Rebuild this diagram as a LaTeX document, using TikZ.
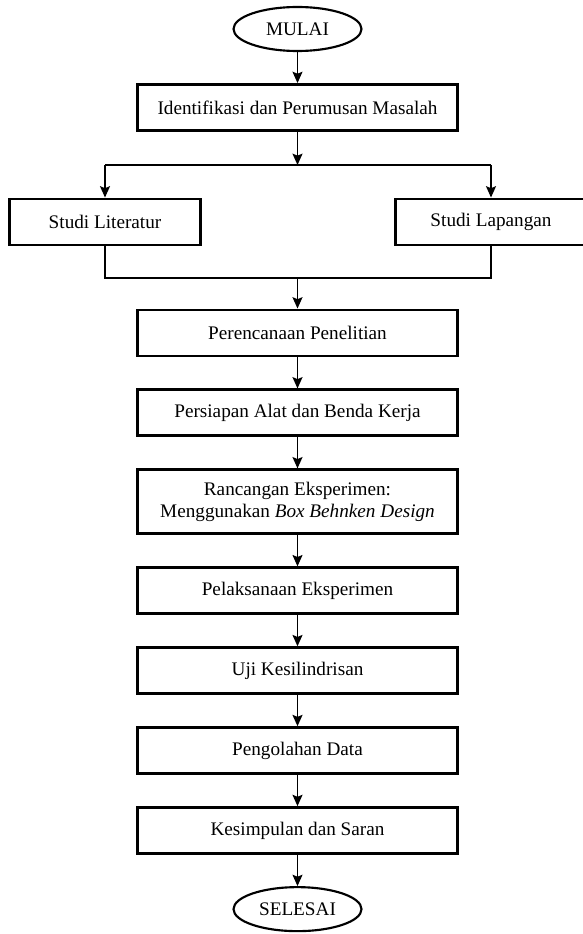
\documentclass[tikz,border=0pt]{standalone}
\usepackage{fontspec}
\setmainfont{Liberation Serif}
\usetikzlibrary{positioning,shapes.geometric,arrows.meta}

\begin{document}
\begin{tikzpicture}[x=0.75pt,y=-0.75pt,node distance=23.25pt]
        \tikzstyle{rect}=[draw, line width=2.2pt, minimum width=240pt, minimum height=34.5pt, align=center, font=\fontsize{14.4}{16.5}\selectfont];
        \tikzstyle{smallrect}=[rect, minimum width=143.5pt];
        \tikzstyle{term}=[draw, ellipse, line width=1.6pt, minimum width=96pt, minimum height=33pt, inner sep=0pt, font=\fontsize{14.4}{16.5}\selectfont];
        \tikzstyle{arr}=[line width=1.1pt, -{Stealth[length=8.5pt,width=7.5pt,inset=1.5pt]}];
        \useasboundingbox (0,0) rectangle (582,934);
        \node[term] (mulai) at (297.5,29) {MULAI};
        \node[rect,below = of mulai] (idf) {Identifikasi dan Perumusan Masalah};
        \coordinate (split) at (297.5,165);
        \coordinate (join) at (297.5,278);
        \node[smallrect] (lit) at (105,222) {Studi Literatur};
        \node[smallrect] (lap) at (491,222) {Studi Lapangan};
        \node[rect] (per) at (297.5,333) {Perencanaan Penelitian};
        \node[rect,below = of per] (alat) {Persiapan Alat dan Benda Kerja};
        \node[rect,below = of alat, minimum height=48pt] (ranc) {Rancangan Eksperimen:\\Menggunakan \textit{Box Behnken Design}};
        \node[rect,below = of ranc] (laks) {Pelaksanaan Eksperimen};
        \node[rect,below = of laks] (uji) {Uji Kesilindrisan};
        \node[rect,below = of uji] (olah) {Pengolahan Data};
        \node[rect,below = of olah] (simp) {Kesimpulan dan Saran};
        \node[term,below = of simp] (selesai) {SELESAI};
        % alur
        \draw[arr] (mulai) -- (idf);
        \draw[arr] (idf) -- (split);
        \draw[line width=1.1pt] (split -| lit) -- (split -| lap);
        \draw[arr] (split -| lit) -- (lit);
        \draw[arr] (split -| lap) -- (lap);
        \draw[line width=1.1pt] (lit) |- (join) -| (lap);
        \draw[arr] (join) -- (per);
        \draw[arr] (per) -- (alat);
        \draw[arr] (alat) -- (ranc);
        \draw[arr] (ranc) -- (laks);
        \draw[arr] (laks) -- (uji);
        \draw[arr] (uji) -- (olah);
        \draw[arr] (olah) -- (simp);
        \draw[arr] (simp) -- (selesai);
\end{tikzpicture}
\end{document}
